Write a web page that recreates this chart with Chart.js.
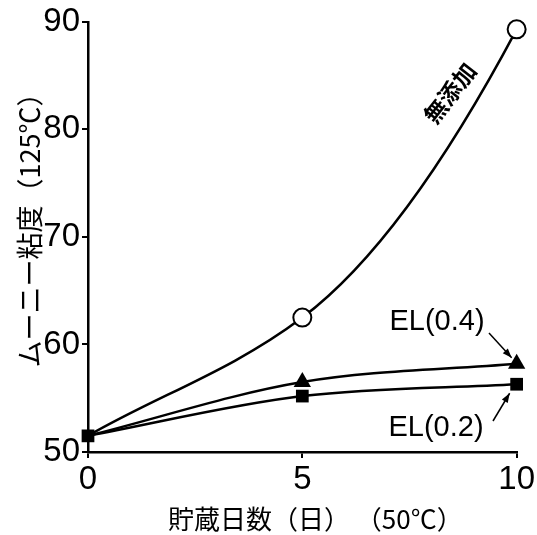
<!DOCTYPE html>
<html>
<head>
<meta charset="utf-8">
<script src="https://cdn.jsdelivr.net/npm/chart.js@4/dist/chart.umd.min.js"></script>
<style>
  html, body { margin: 0; padding: 0; background: #fff; }
  #wrap { width: 537px; height: 535px; }
</style>
</head>
<body>
<div id="wrap"><canvas id="chart" width="537" height="535"></canvas></div>
<script>
// storage days at 50C
const days = [0, 5, 10];
// Mooney viscosity (125C)
const plainValues = [51.5, 62.5, 89.3];   // 無添加
const el04Values = [51.5, 56.5, 58.2];    // EL(0.4)
const el02Values = [51.5, 55.2, 56.3];    // EL(0.2)
// slope of the hand-drawn 無添加 curve at each point (viscosity per day)
const plainSlopes = [2.3, 3.0, 7.5];
const yTicks = [50, 60, 70, 80, 90];
const xTicks = [0, 5, 10];

const numFont = "'Liberation Sans', Arial, sans-serif";
const jpFont = "'Noto Sans CJK JP', sans-serif";

const toPoints = (vals) => vals.map((v, i) => ({ x: days[i], y: v }));

// bend the 無添加 curve like the original drawing (steeper at the end)
const curvePlugin = {
    id: 'curve',
    beforeDatasetDraw(chart, args) {
        if (chart.data.datasets[args.index].label !== '無添加') return;
        const meta = args.meta;
        const { x, y } = chart.scales;
        meta.dataset.updateControlPoints(chart.chartArea, meta.indexAxis);
        const pts = meta.data;
        const kx = x.getPixelForValue(1) - x.getPixelForValue(0);
        const ky = y.getPixelForValue(1) - y.getPixelForValue(0);
        pts.forEach((p, i) => {
            const slope = plainSlopes[i] * ky / kx;
            const dPrev = i > 0 ? (p.x - pts[i - 1].x) / 3 : 0;
            const dNext = i < pts.length - 1 ? (pts[i + 1].x - p.x) / 3 : 0;
            p.cp1x = p.x - dPrev; p.cp1y = p.y - slope * dPrev;
            p.cp2x = p.x + dNext; p.cp2y = p.y + slope * dNext;
        });
    }
};

// --- annotations: series names and arrows ---
const notePlugin = {
    id: 'notes',
    afterDatasetsDraw(chart) {
        const { ctx, scales: { x, y } } = chart;
        ctx.save();
        ctx.fillStyle = '#000';
        ctx.strokeStyle = '#000';
        ctx.lineWidth = 1.5;

        // 無添加, written along the curve
        ctx.save();
        ctx.translate(450, 93);
        ctx.rotate(-52 * Math.PI / 180);
        ctx.font = "bold 23px " + jpFont;
        ctx.textAlign = 'center';
        ctx.textBaseline = 'middle';
        ctx.fillText('無添加', 0, 0);
        ctx.restore();

        ctx.font = "29px " + numFont;
        ctx.textAlign = 'center';
        ctx.textBaseline = 'middle';
        ctx.fillText('EL(0.4)', 437, 322);
        ctx.fillText('EL(0.2)', 436, 428);

        const tri = { x: x.getPixelForValue(10), y: y.getPixelForValue(el04Values[2]) };
        const sq = { x: x.getPixelForValue(10), y: y.getPixelForValue(el02Values[2]) };
        arrow(ctx, 489, 333, tri.x - 5, tri.y - 6);
        arrow(ctx, 493, 421, sq.x - 7, sq.y + 9);
        ctx.restore();
    }
};

function arrow(ctx, x1, y1, x2, y2) {
    const a = Math.atan2(y2 - y1, x2 - x1);
    const len = 10;
    ctx.beginPath();
    ctx.moveTo(x1, y1);
    ctx.lineTo(x2, y2);
    ctx.stroke();
    ctx.beginPath();
    ctx.moveTo(x2, y2);
    ctx.lineTo(x2 - len * Math.cos(a - 0.35), y2 - len * Math.sin(a - 0.35));
    ctx.lineTo(x2 - len * Math.cos(a + 0.35), y2 - len * Math.sin(a + 0.35));
    ctx.closePath();
    ctx.fill();
}

new Chart(document.getElementById('chart'), {
    type: 'line',
    data: {
        datasets: [
            {
                label: 'EL(0.2)',
                data: toPoints(el02Values),
                borderColor: '#000',
                backgroundColor: '#000',
                borderWidth: 2.5,
                pointStyle: 'rect',
                pointRadius: 9,
                pointBorderWidth: 0,
                cubicInterpolationMode: 'monotone',
                clip: false,
                order: 1
            },
            {
                label: 'EL(0.4)',
                data: toPoints(el04Values),
                borderColor: '#000',
                backgroundColor: '#000',
                borderWidth: 2.5,
                pointStyle: 'triangle',
                pointRadius: [0, 10, 10],
                pointBorderWidth: 0,
                cubicInterpolationMode: 'monotone',
                clip: false,
                order: 2
            },
            {
                label: '無添加',
                data: toPoints(plainValues),
                borderColor: '#000',
                backgroundColor: '#fff',
                borderWidth: 2.5,
                pointStyle: 'circle',
                pointRadius: [0, 9, 9],
                pointBorderWidth: 2,
                cubicInterpolationMode: 'monotone',
                clip: false,
                order: 3
            }
        ]
    },
    options: {
        responsive: false,
        animation: false,
        layout: { padding: { top: 20, right: 0, left: 0, bottom: 0 } },
        plugins: {
            legend: { display: false },
            tooltip: { enabled: false }
        },
        scales: {
            x: {
                type: 'linear',
                min: 0,
                max: 10,
                afterBuildTicks: (s) => { s.ticks = xTicks.map(v => ({ value: v })); },
                afterFit: (s) => { s.height = 83; },
                border: { display: true, color: '#000', width: 2.5 },
                grid: { display: true, drawOnChartArea: false, drawTicks: true, tickLength: 6, color: '#000', lineWidth: 2 },
                ticks: { color: '#000', padding: 2, font: { family: numFont, size: 33 } },
                title: {
                    display: true,
                    text: '　貯蔵日数（日） （50℃）',
                    color: '#000',
                    font: { family: jpFont, size: 26 },
                    padding: { top: 0, bottom: 0 }
                }
            },
            y: {
                type: 'linear',
                min: 50,
                max: 90,
                afterBuildTicks: (s) => { s.ticks = yTicks.map(v => ({ value: v })); },
                afterFit: (s) => { s.width = 88; },
                border: { display: true, color: '#000', width: 2.5 },
                grid: { display: true, drawOnChartArea: false, drawTicks: true, tickLength: 6, color: '#000', lineWidth: 2 },
                ticks: { color: '#000', padding: 2, font: { family: numFont, size: 33 } },
                title: {
                    display: true,
                    text: '　ムーニー粘度（125℃）',
                    color: '#000',
                    font: { family: jpFont, size: 27 },
                    padding: { top: 14, bottom: 0 }
                }
            }
        }
    },
    plugins: [curvePlugin, notePlugin]
});
</script>
</body>
</html>
